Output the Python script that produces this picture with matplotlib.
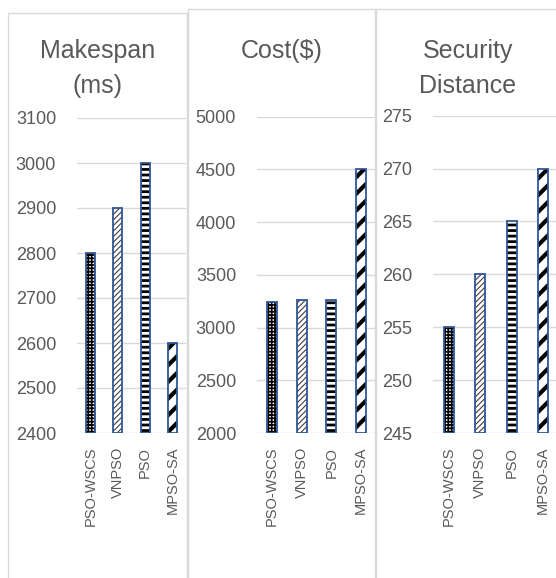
import matplotlib
matplotlib.use("Agg")
import matplotlib.pyplot as plt
from matplotlib.patches import Rectangle

# data
algorithms = ["PSO-WSCS", "VNPSO", "PSO", "MPSO-SA"]
makespan = [2800, 2900, 3000, 2600]
cost = [3240, 3265, 3260, 4500]
security = [255, 260, 265, 270]

makespan_ticks = [2400, 2500, 2600, 2700, 2800, 2900, 3000, 3100]
cost_ticks = [2000, 2500, 3000, 3500, 4000, 4500, 5000]
security_ticks = [245, 250, 255, 260, 265, 270, 275]

# hatch pattern, hatch colour, hatch line width for each algorithm
hatches = ["+++++", "//////", "---", "//"]
hatch_colors = ["black", "#404040", "black", "black"]
hatch_widths = [1.2, 0.8, 2.0, 3.0]

TEXT = "#595959"
GRID = "#d9d9d9"
EDGE = "#2F5597"

W, H = 556, 578
plt.rcParams["font.family"] = ["Liberation Sans", "DejaVu Sans"]

fig = plt.figure(figsize=(W / 100, H / 100), dpi=100)


def px_box(left, top, right, bottom):
    return [left / W, 1 - bottom / H, (right - left) / W, (bottom - top) / H]


def panel(border, axbox, title, values, ticks):
    bl, bt, br = border
    fig.add_artist(Rectangle((bl / W, -0.1), (br - bl) / W, 1.1 - bt / H,
                             transform=fig.transFigure, fill=False,
                             edgecolor=GRID, lw=1.0))
    # title lines are about 35 px apart, first line centred near y=51
    for k, line in enumerate(title.split("\n")):
        fig.text((bl + br) / 2 / W, 1 - (51 + 35 * k) / H, line, ha="center",
                 va="center", fontsize=18, color=TEXT)

    ax = fig.add_axes(px_box(*axbox))
    x = range(len(values))
    for i, v in enumerate(values):
        with plt.rc_context({"hatch.linewidth": hatch_widths[i]}):
            b = ax.bar(i, v - ticks[0], bottom=ticks[0], width=0.33,
                       color="white", edgecolor=hatch_colors[i], lw=0,
                       hatch=hatches[i], zorder=2)
            for p in b:
                if hasattr(p, "set_hatch_linewidth"):
                    p.set_hatch_linewidth(hatch_widths[i])
        ax.bar(i, v - ticks[0], bottom=ticks[0], width=0.33, fill=False,
               edgecolor=EDGE, lw=1.3, zorder=3)

    ax.set_xlim(-0.5, len(values) - 0.5)
    ax.set_ylim(ticks[0], ticks[-1])
    ax.set_yticks(ticks)
    ax.set_yticklabels([str(t) for t in ticks])
    ax.set_xticks(list(x))
    ax.set_xticklabels(algorithms, rotation=90)
    ax.tick_params(axis="y", length=0, pad=15, labelsize=13, labelcolor=TEXT)
    ax.tick_params(axis="x", length=0, pad=10, labelsize=10.5, labelcolor=TEXT)
    ax.grid(axis="y", color=GRID, lw=1.0, zorder=0)
    ax.set_axisbelow(True)
    for s in ax.spines.values():
        s.set_visible(False)
    ax.patch.set_alpha(0)
    return ax


panel((8, 13, 187), (77, 118, 186, 433), "Makespan\n(ms)", makespan, makespan_ticks)
panel((188, 9, 375), (257, 116.7, 376, 433), "Cost($)", cost, cost_ticks)
panel((376, 9, 559), (433, 115.7, 559, 433), "Security\nDistance", security, security_ticks)

fig.savefig("out.png", dpi=100)
